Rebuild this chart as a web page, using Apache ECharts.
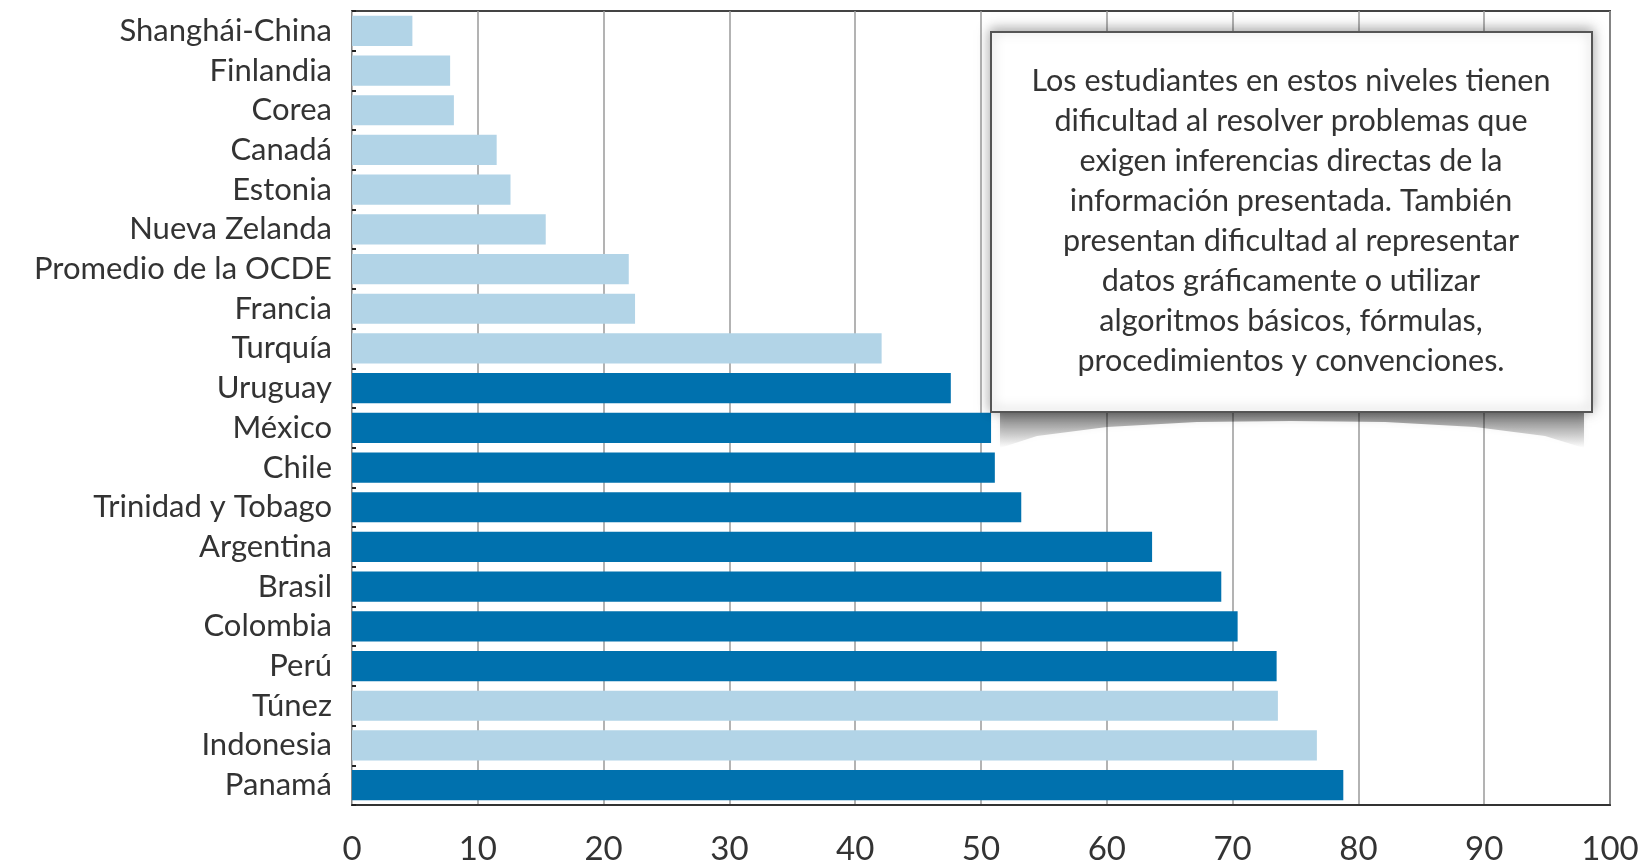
<!DOCTYPE html>
<html>
<head>
<meta charset="utf-8">
<script src="https://cdn.jsdelivr.net/npm/echarts@6/dist/echarts.min.js"></script>
<style>
  html, body { margin: 0; padding: 0; background: #fff; }
  #main { width: 1646px; height: 867px; }
</style>
</head>
<body>
<div id="main"></div>
<script>
// countries, top to bottom
const paises = [
  'Shanghái-China', 'Finlandia', 'Corea', 'Canadá', 'Estonia', 'Nueva Zelanda',
  'Promedio de la OCDE', 'Francia', 'Turquía', 'Uruguay', 'México', 'Chile',
  'Trinidad y Tobago', 'Argentina', 'Brasil', 'Colombia', 'Perú', 'Túnez',
  'Indonesia', 'Panamá'
]
// % of students in these levels
const porcentajes = [
  4.8, 7.8, 8.1, 11.5, 12.6, 15.4,
  22.0, 22.5, 42.1, 47.6, 50.8, 51.1,
  53.2, 63.6, 69.1, 70.4, 73.5, 73.6,
  76.7, 78.8
]
// Latin American countries get the dark colour
const latinoamerica = [
  'Uruguay', 'México', 'Chile', 'Trinidad y Tobago', 'Argentina',
  'Brasil', 'Colombia', 'Perú', 'Panamá'
]
const ticksX = [0, 10, 20, 30, 40, 50, 60, 70, 80, 90, 100]

const nota = [
  'Los estudiantes en estos niveles tienen',
  'dificultad al resolver problemas que',
  'exigen inferencias directas de la',
  'información presentada. También',
  'presentan dificultad al representar',
  'datos gráficamente o utilizar',
  'algoritmos básicos, fórmulas,',
  'procedimientos y convenciones.'
]

const FONT = 'Lato, "Noto Sans", sans-serif'
const chart = echarts.init(document.getElementById('main'))

const option = {
  backgroundColor: '#fff',
  animation: false,
  grid: {
    left: 352,
    right: 36,
    top: 11,
    bottom: 62,
    show: true,
    borderColor: '#444',
    borderWidth: 2,
    containLabel: false
  },
  xAxis: {
    type: 'value',
    min: ticksX[0],
    max: ticksX[ticksX.length - 1],
    interval: 10,
    axisLine: { show: true, lineStyle: { color: '#333', width: 2 } },
    axisTick: { show: false },
    splitLine: { show: true, lineStyle: { color: '#9a9a9a', width: 1.5 } },
    axisLabel: {
      color: '#333',
      fontSize: 33,
      fontFamily: FONT,
      margin: 28,
      formatter: v => (ticksX.includes(v) ? String(v) : '')
    }
  },
  yAxis: {
    type: 'category',
    inverse: true,
    data: paises,
    axisLine: { show: true, lineStyle: { color: '#bbb', width: 1 } },
    axisTick: { show: true, inside: true, length: 4, lineStyle: { color: '#222', width: 2 } },
    axisLabel: {
      interval: 0,
      color: '#333',
      fontSize: 31,
      fontFamily: FONT,
      margin: 20
    }
  },
  series: [
    {
      type: 'bar',
      barCategoryGap: '24%',
      data: porcentajes.map((v, i) => ({
        value: v,
        itemStyle: {
          color: latinoamerica.includes(paises[i]) ? '#0071ae' : '#b2d4e7'
        }
      }))
    }
  ],
  graphic: [
    {
      // curled shadow under the note
      type: 'polygon',
      z: 10,
      shape: {
        points: [
          [1000, 410], [1584, 410], [1584, 448], [1545, 436], [1475, 427],
          [1385, 422], [1291, 421], [1197, 422], [1107, 427], [1037, 436], [1000, 448]
        ]
      },
      style: {
        fill: {
          type: 'linear', x: 0, y: 0, x2: 0, y2: 1,
          colorStops: [
            { offset: 0, color: 'rgba(0,0,0,0.5)' },
            { offset: 1, color: 'rgba(0,0,0,0)' }
          ]
        },
        shadowBlur: 6,
        shadowColor: 'rgba(0,0,0,0.2)'
      }
    },
    {
      type: 'rect',
      z: 11,
      shape: { x: 991, y: 32, width: 601, height: 380 },
      style: {
        fill: '#fff',
        stroke: '#555',
        lineWidth: 2,
        shadowBlur: 12,
        shadowOffsetX: 0,
        shadowOffsetY: -2,
        shadowColor: 'rgba(0,0,0,0.35)'
      }
    },
    {
      type: 'text',
      z: 12,
      x: 1291,
      y: 221,
      style: {
        text: nota.join('\n'),
        fill: '#333',
        fontSize: 30.5,
        fontFamily: FONT,
        lineHeight: 40,
        align: 'center',
        verticalAlign: 'middle'
      }
    }
  ]
}

option && chart.setOption(option)
</script>
</body>
</html>
